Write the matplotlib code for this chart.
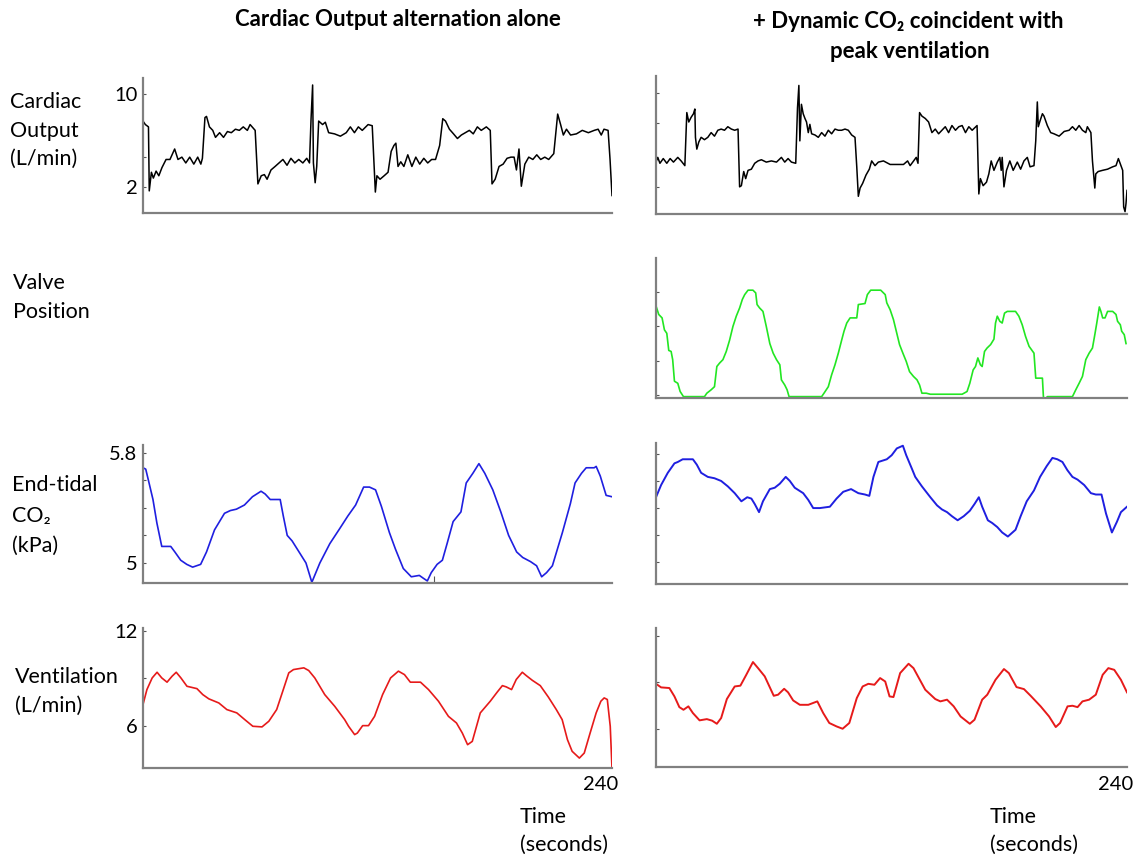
import matplotlib
matplotlib.use("Agg")
import matplotlib.pyplot as plt

# ---- data (time in s) ----
co_left_t = [0, 1.2, 2.8, 3.2, 4.3, 5.3, 6.7, 8.1, 9.7, 11.8, 13.8, 16.2, 17.9, 19.9, 21.9, 23.9, 26, 28, 29.6, 30.4,
             31.7, 32.5, 34, 35.7, 37.1, 39.2, 41.2, 43.2, 45.2, 47.3, 49.3, 51.3, 53.4, 54.8, 57.4, 58.8, 60.5, 62.1,
             63.5, 65.5, 67.6, 69.6, 71.6, 73.7, 75.7, 77.7, 79.7, 81.8, 83.8, 85.2, 86, 86.8, 87.2, 88.1, 88.9, 89.9,
             91.9, 93.3, 95, 98, 101, 104, 106.1, 108.2, 110.2, 112.2, 115.2, 117.3, 118.9, 119.7, 121.3, 123.4, 125.4,
             127, 128.4, 129.4, 130.5, 131.9, 133.5, 135.5, 137.6, 139.6, 141.6, 143.7, 145.7, 147.7, 149.7, 151.8,
             153.4, 154.8, 156.8, 158.9, 160.9, 162.9, 165, 167, 169, 171.1, 173.1, 175.7, 177.7, 178.6, 180.2, 182.2,
             184.3, 186.3, 188.3, 189.9, 191.1, 192.4, 193.6, 195.4, 197.4, 199.5, 201.5, 203.5, 205.6, 207.6, 210.2,
             212.2, 213.7, 215.1, 216.7, 218.8, 221.8, 224.8, 227.9, 230.9, 232.9, 234.5, 235.9, 238, 239, 240]
co_left_v = [7.7, 7.4, 7.2, 1.7, 3.3, 2.8, 3.4, 3.0, 3.7, 4.4, 4.4, 5.3, 4.4, 4.6, 4.1, 4.6, 4.0, 4.6, 4.0, 4.5,
             8.0, 8.1, 7.2, 6.9, 6.3, 6.7, 6.3, 6.8, 6.7, 7.0, 6.9, 7.2, 6.9, 7.4, 6.9, 2.3, 3.0, 3.1,
             2.7, 3.5, 3.8, 4.1, 4.4, 3.9, 4.5, 4.1, 4.4, 4.1, 4.5, 4.1, 7.9, 10.8, 4.1, 2.4, 3.8, 7.7,
             7.4, 7.6, 6.7, 6.6, 6.4, 6.7, 7.2, 6.7, 7.2, 6.9, 7.4, 7.3, 1.6, 3.0, 2.7, 3.0, 3.3,
             5.1, 5.6, 5.8, 3.8, 4.2, 3.8, 4.8, 3.8, 4.6, 4.0, 4.5, 4.1, 4.4, 4.4, 5.6,
             7.9, 7.7, 7.0, 6.6, 6.2, 6.5, 6.7, 6.9, 6.6, 7.2, 6.9, 7.2, 6.9, 2.3, 2.7, 3.8,
             4.0, 4.5, 4.6, 4.6, 3.5, 5.3, 2.1, 4.0, 4.6, 4.4, 4.8, 4.4, 4.6, 4.4, 4.9,
             8.3, 7.4, 6.5, 7.0, 6.5, 6.6, 6.9, 6.7, 6.9, 7.0, 6.5, 7.0, 6.9, 4.4, 1.3]

co_right_t = [0, 0.9, 2, 3.7, 5.5, 7.2, 8.9, 11.1, 12.8, 14.7, 15.7, 16.7, 17.9, 19.1, 19.8, 20.1, 20.8, 21.8, 23, 24.7,
              26.4, 28.1, 29.8, 31.5, 33.2, 34.9, 36.6, 38.4, 40.1, 41.8, 42.6, 43.5, 44.7, 45.7, 46.9, 48.6, 50.3, 52,
              53.7, 56.2, 58.8, 61.4, 63.9, 65.6, 67.3, 69, 71.2, 72.1, 72.8, 73.3, 74.1, 75, 75.9, 76.7, 77.6, 78.4,
              79.3, 81, 82.7, 84.4, 86.1, 87.8, 89.5, 91.2, 92.9, 94.6, 96.3, 98, 99.7, 101.4, 102.3, 103.1, 104,
              105.3, 107, 108.7, 109.9, 111.6, 113.3, 115.9, 119.3, 122.7, 126.1, 128.2, 129.5, 131.3, 132.6, 133.5,
              134.3, 135.5, 137.2, 138.9, 140.6, 142.3, 144, 145.7, 147.4, 149.1, 150.8, 152.6, 154.3, 156, 157.7,
              159.4, 161.1, 163.6, 164.5, 165.3, 166.7, 168.4, 169.6, 170.8, 172.2, 173.9, 175.2, 175.9, 176.4, 177.3,
              178.6, 180.3, 182, 184.1, 185.8, 187.5, 189.2, 190.6, 192.6, 193.5, 194.3, 194.8, 195.7, 196.9, 197.7,
              199.4, 201.1, 202.8, 205.4, 208, 210.5, 212.2, 213.9, 215.6, 217.3, 219, 219.8, 221.6, 222.4, 223.6,
              224.1, 225.3, 227.5, 230.1, 232.7, 234.4, 235.6, 236.9, 237.8, 238.3, 239, 239.5, 240]
co_right_v = [4.1, 4.5, 4.0, 4.4, 4.0, 4.4, 4.1, 4.5, 4.2, 3.8, 8.3, 7.5, 7.9, 8.2, 8.6, 6.2, 5.2, 5.8, 6.2, 6.0,
              6.2, 6.6, 6.3, 6.8, 6.9, 6.8, 7.1, 6.9, 6.8, 6.9, 2.0, 2.1, 3.3, 2.7, 3.4, 3.5, 4.0, 4.2,
              4.3, 4.1, 4.2, 4.1, 4.5, 4.1, 4.4, 4.1, 4.0, 8.7, 10.6, 5.9, 9.0, 8.2, 7.8, 7.5, 6.6, 7.3,
              6.5, 6.4, 6.2, 6.6, 6.3, 6.8, 6.5, 6.9, 6.8, 6.8, 6.9, 6.8, 6.4, 6.2, 3.7, 1.2, 1.9,
              2.3, 3.0, 3.5, 4.2, 3.8, 4.1, 4.2, 3.9, 3.9, 3.9, 4.2, 3.8, 4.2, 4.5, 4.0,
              8.3, 8.0, 7.8, 7.5, 6.6, 6.9, 6.5, 6.8, 7.1, 6.6, 7.2, 6.8, 7.1, 7.2, 6.6,
              7.1, 6.8, 7.2, 1.4, 2.7, 2.1, 2.4, 3.1, 4.2, 3.4, 4.1, 4.5, 3.4, 4.5, 2.0,
              3.4, 4.2, 3.4, 4.1, 3.5, 4.2, 4.5, 3.7, 3.8, 5.9, 9.2, 7.1, 7.6, 8.2, 8.0,
              7.2, 6.6, 6.5, 6.3, 6.7, 6.8, 7.1, 6.8, 7.2, 6.8, 6.6, 7.1, 6.6, 4.2, 1.9,
              3.1, 3.3, 3.4, 3.5, 3.7, 3.8, 4.4, 3.8, 3.4, 0.3, -0.1, 0.6, 1.7]

valve_t = [0, 1.4, 3.1, 4.3, 5.5, 6.5, 7.7, 8.5, 9.4, 11.1, 12.3, 14, 24.7, 25.9, 28.1, 29.8, 31, 32.4, 34.1, 35.8,
           37.5, 39.2, 40.9, 42.6, 44, 45.2, 46.9, 49.4, 50.8, 51.5, 52.8, 54.5, 56.2, 58, 59.7, 61.4, 63.1, 63.9,
           65.6, 66.8, 67.8, 84.4, 85.6, 87.8, 89.5, 91.2, 92.9, 94.6, 95.8, 97.2, 98.9, 102.3, 103.1, 106.5, 107.7,
           109.4, 114.5, 116.8, 117.6, 119.3, 121, 122.7, 124.1, 125.8, 127.5, 129.2, 131.2, 133, 134.3, 135.5,
           137.7, 139.8, 156, 158.5, 159.9, 161.6, 162.8, 164, 165.3, 166.2, 167.4, 168.7, 170.5, 172.2, 173, 173.9,
           175.2, 176.4, 177.6, 179, 183.2, 184.9, 186.6, 188.3, 190.1, 192.6, 193.5, 196.9, 197.4, 198.1, 199.4,
           212.2, 213.9, 215.6, 217.3, 219, 220.7, 222.4, 223.6, 224.6, 225.9, 226.7, 227.6, 228.8, 230.1, 232.7,
           234.4, 235.2, 236.6, 237.3, 238.6, 239.5]
valve_v = [2.6, 2.35, 2.25, 1.9, 1.8, 1.3, 1.27, 1.03, 0.4, 0.34, 0.1, -0.05, -0.05, 0.05, 0.15, 0.24, 0.83, 0.93,
           1.03, 1.27, 1.6, 2.0, 2.3, 2.54, 2.79, 2.93, 3.06, 3.06, 2.98, 2.64, 2.54, 2.44, 2.0, 1.5, 1.22, 1.03,
           0.88, 0.44, 0.29, 0.15, -0.05, -0.05, 0.05, 0.24, 0.59, 0.88, 1.22, 1.6, 1.86, 2.1, 2.25, 2.25, 2.64,
           2.67, 2.93, 3.06, 3.06, 2.93, 2.69, 2.49, 2.2, 1.8, 1.47, 1.22, 0.98, 0.68, 0.54, 0.44, 0.29, 0.05,
           0.05, 0.02, 0.02, 0.1, 0.34, 0.73, 0.83, 1.08, 0.88, 0.83, 1.27, 1.37, 1.47, 1.63, 2.1, 2.3,
           2.15, 2.1, 2.39, 2.44, 2.44, 2.3, 2.05, 1.71, 1.42, 1.22, 0.49, 0.49, -0.05, -0.15, -0.05,
           -0.05, 0.15, 0.34, 0.54, 1.03, 1.22, 1.37, 1.76, 2.1, 2.57, 2.44, 2.25, 2.25, 2.44, 2.44,
           2.35, 2.15, 2.05, 1.86, 1.76, 1.5]

co2_left_t = [0, 1.4, 3.1, 5.1, 7.1, 9.6, 11.2, 14.2, 16.3, 19.3, 22.4, 25.4, 29.5, 32.5, 36.6, 41.7, 44.7, 47.8, 51.9,
              56, 60.4, 62.5, 65.1, 70.2, 71.8, 73.8, 76.3, 80.3, 83.4, 86.4, 90.5, 95.6, 100.7, 104.8, 108.8, 112.9,
              115.9, 119, 122, 126.1, 129.2, 133.2, 137.3, 141.4, 143.4, 145.5, 147.5, 150.5, 153.2, 155.6, 158.7,
              162.7, 165.4, 168.8, 171.9, 174.9, 179, 183.1, 187.1, 191.2, 194.3, 198.3, 201.4, 204, 206.5, 209.5,
              214.6, 218.7, 221.1, 224.4, 226.8, 230.9, 231.9, 234, 237, 240]
co2_left_v = [5.69, 5.68, 5.58, 5.46, 5.29, 5.12, 5.12, 5.12, 5.08, 5.02, 4.99, 4.97, 4.99, 5.08, 5.24, 5.36, 5.38,
              5.39, 5.42, 5.48, 5.52, 5.50, 5.46, 5.46, 5.34, 5.20, 5.16, 5.07, 5.00, 4.86, 5.00, 5.14, 5.25, 5.34,
              5.42, 5.55, 5.55, 5.53, 5.41, 5.22, 5.10, 4.96, 4.90, 4.91, 4.89, 4.87, 4.93, 4.99, 5.02, 5.14, 5.30,
              5.37, 5.58, 5.65, 5.72, 5.65, 5.53, 5.37, 5.20, 5.08, 5.04, 5.01, 4.98, 4.90, 4.93, 4.98,
              5.22, 5.43, 5.58, 5.65, 5.69, 5.69, 5.70, 5.63, 5.49, 5.48]

co2_right_t = [0, 2.6, 6, 9.4, 11.1, 13.6, 18.8, 20.8, 23, 26.4, 29.8, 33.2, 36.6, 40.1, 43.5, 46.5, 48.6, 50.3, 52.5,
               54.5, 58, 60.5, 63.1, 66.1, 68.2, 70.7, 75, 77.6, 80.1, 83.5, 88.6, 92, 95.4, 99.4, 103.1, 106.5, 108.7,
               110.8, 113.3, 117.6, 120.1, 122.7, 125.8, 127.5, 130.4, 132.1, 135.5, 139.8, 143.2, 145.7, 148.3,
               150.8, 153.7, 156.8, 159.9, 162.3, 164.5, 166.2, 169.1, 171.3, 173.9, 176.4, 179.3, 183.2, 185.8,
               188.9, 192.6, 195.7, 199.1, 202, 204.5, 207.1, 209.6, 212.2, 214.8, 218.2, 221.6, 224.1, 227, 229.3,
               232.3, 234.9, 236.9, 240]
co2_right_v = [5.48, 5.57, 5.66, 5.73, 5.74, 5.76, 5.76, 5.72, 5.66, 5.63, 5.62, 5.60, 5.56, 5.51, 5.45, 5.48, 5.47,
               5.43, 5.37, 5.45, 5.54, 5.55, 5.58, 5.63, 5.60, 5.55, 5.51, 5.46, 5.40, 5.40, 5.41, 5.47, 5.52, 5.54,
               5.51, 5.50, 5.49, 5.63, 5.74, 5.76, 5.79, 5.84, 5.86, 5.79, 5.69, 5.63, 5.56, 5.48, 5.42, 5.39, 5.37,
               5.34, 5.31, 5.34, 5.38, 5.43, 5.48, 5.41, 5.31, 5.29, 5.26, 5.22, 5.19, 5.24, 5.34,
               5.45, 5.53, 5.63, 5.71, 5.77, 5.76, 5.74, 5.68, 5.63, 5.61, 5.57, 5.51, 5.50, 5.50, 5.36,
               5.22, 5.30, 5.37, 5.41]

vent_left_t = [0, 2, 4.7, 7.2, 9.6, 12.3, 14.9, 17, 19.4, 22.5, 27.6, 30.6, 33.7, 38.8, 42.9, 48, 52.1, 56.2, 60.9,
               64.4, 68.4, 71.5, 74.6, 77, 82.3, 84.8, 87.9, 93, 98.1, 103.2, 105.2, 108.3, 109.7, 112.4, 115.4,
               118.5, 122.6, 126.7, 130.7, 133.8, 136.8, 142, 146.1, 151.2, 156.3, 160.4, 163.4, 166.1, 168.5, 172.6,
               177.7, 181.2, 183.9, 185.9, 188.6, 191, 194.1, 196.1, 199.2, 203.3, 207.4, 211.5, 214.5, 217.2, 219.6,
               223.3, 225.8, 228.8, 231.9, 234.3, 236, 237.6, 239.1, 240]
vent_left_v = [7.34, 8.29, 9.03, 9.39, 9.03, 8.76, 9.14, 9.39, 9.03, 8.5, 8.35, 7.97, 7.7, 7.44, 7.02, 6.81, 6.38,
               5.96, 5.92, 6.28, 7.02, 8.18, 9.35, 9.56, 9.67, 9.5, 9.03, 7.97, 7.23, 6.38, 5.96, 5.43, 5.53, 6.0,
               6.0, 6.59, 7.97, 9.03, 9.46, 9.24, 8.76, 8.76, 8.29, 7.55, 6.59, 6.17, 5.53, 4.79, 5.0, 6.81,
               7.55, 8.12, 8.54, 8.46, 8.29, 8.93, 9.39, 9.18, 8.88, 8.54, 7.82, 7.02, 6.38, 5.11, 4.37,
               3.94, 4.26, 5.53, 6.81, 7.55, 7.76, 7.66, 5.96, 3.31]

vent_right_t = [0, 2.6, 6.8, 9.4, 11.9, 14, 16.5, 18.8, 22.2, 25.9, 28.6, 31, 33.2, 36.1, 40.1, 43, 46, 49.4, 52,
                55.4, 60, 62.2, 65.3, 67.3, 69.9, 73.3, 77.6, 82.2, 85.2, 88.3, 92, 95.1, 98.5, 102.3, 105.3, 108.2,
                111.3, 114.2, 116.8, 119, 121, 124.4, 128.7, 131.2, 137.2, 142.3, 144.9, 148.3, 151.7, 155.2, 159.9,
                162.3, 166.2, 168.8, 173, 177.3, 179.8, 183.7, 187.5, 190.9, 196, 200.3, 203.7, 205.9, 209.7, 212.2,
                214.8, 217.3, 220.7, 224.1, 227.6, 230.5, 233.5, 236.9, 240]
vent_right_v = [8.91, 8.68, 8.64, 8.1, 7.41, 7.24, 7.46, 7.03, 6.56, 6.64, 6.54, 6.34, 6.71, 7.93, 8.74, 8.79, 9.49,
                10.31, 9.92, 9.39, 8.14, 8.21, 8.59, 8.36, 7.84, 7.56, 7.56, 7.78, 7.03, 6.39, 6.17, 6.02, 6.39,
                7.99, 8.74, 8.91, 8.85, 9.28, 9.06, 8.1, 8.06, 9.6, 10.2, 9.92, 8.53, 7.93, 7.78, 7.89, 7.46, 6.81,
                6.34, 6.6, 7.89, 8.21, 9.17, 9.86, 9.6, 8.7, 8.57, 8.14, 7.46, 6.81, 6.13, 6.39, 7.46, 7.5,
                7.41, 7.78, 7.89, 8.21, 9.49, 9.92, 9.81, 9.17, 8.36]

W, H = 1134, 856
SPINE = '#808080'


def panel(fig, x0, y0, x1, y1):
    ax = fig.add_axes([x0 / W, 1 - y1 / H, (x1 - x0) / W, (y1 - y0) / H])
    for s in ['top', 'right']:
        ax.spines[s].set_visible(False)
    for s in ['left', 'bottom']:
        ax.spines[s].set_color(SPINE)
        ax.spines[s].set_linewidth(1.6)
    ax.set_xlim(0, 240)
    ax.set_xticks([])
    ax.tick_params(axis='y', direction='in', length=2.5, width=0.8, color='#555555',
                   labelsize=14.5, pad=4)
    return ax


def label(fig, x, y, s, size=15.5, **kw):
    fig.text(x / W, 1 - y / H, s, va='center', fontsize=size, **kw)


def main():
    plt.rcParams['font.family'] = ['Lato', 'DejaVu Sans']
    fig = plt.figure(figsize=(W / 100, H / 100), dpi=100)

    # titles
    label(fig, 398, 20, 'Cardiac Output alternation alone', size=16, ha='center', fontweight='bold')
    label(fig, 908, 22, '+ Dynamic CO₂ coincident with', size=16, ha='center', fontweight='bold')
    label(fig, 910, 52, 'peak ventilation', size=16, ha='center', fontweight='bold')

    # row labels
    for x, y, s in [(10, 102, 'Cardiac'), (10, 131, 'Output'), (10, 159, '(L/min)'),
                    (13, 283, 'Valve'), (13, 312, 'Position'),
                    (12, 485, 'End-tidal'), (12, 516, 'CO₂'), (12, 546, '(kPa)'),
                    (15, 677, 'Ventilation'), (15, 706, '(L/min)')]:
        label(fig, x, y, s, ha='left')

    # 1. Cardiac output
    ax = panel(fig, 143, 78, 612, 213)
    ax.plot(co_left_t, co_left_v, color='black', lw=1.1)
    ax.set_ylim(-0.2, 11.4)
    ax.set_yticks([2, 4.65, 10], ['2', '', '10'])

    ax = panel(fig, 656, 76, 1127, 214)
    ax.plot(co_right_t, co_right_v, color='black', lw=1.1)
    ax.set_ylim(-0.3, 11.4)
    ax.set_yticks([2, 7.4, 10], ['', '', ''])

    # 2. Valve position (only right)
    ax = panel(fig, 656, 258, 1127, 398)
    ax.plot(valve_t, valve_v, color='#22e622', lw=1.2)
    ax.set_ylim(-0.09, 4.0)
    ax.set_yticks([0, 1, 2, 3], ['', '', '', ''])

    # 3. End-tidal CO2
    ax = panel(fig, 143, 445, 612, 583)
    ax.plot(co2_left_t, co2_left_v, color='#1f1fe0', lw=1.2)
    ax.set_ylim(4.855, 5.855)
    ax.set_yticks([5.0, 5.2, 5.4, 5.6, 5.8], ['5', '', '', '', '5.8'])
    ax.set_xticks([149], [''])
    ax.tick_params(axis='x', direction='in', length=5, width=0.8, color='#555555')

    ax = panel(fig, 656, 443, 1127, 584)
    ax.plot(co2_right_t, co2_right_v, color='#1f1fe0', lw=1.4)
    ax.set_ylim(4.84, 5.88)
    ax.set_yticks([5.0, 5.2, 5.4, 5.6, 5.8], ['', '', '', '', ''])

    # 4. Ventilation
    ax = panel(fig, 143, 628, 612, 768)
    ax.plot(vent_left_t, vent_left_v, color='#e61a1a', lw=1.2)
    ax.set_ylim(3.31, 12.2)
    ax.set_yticks([6, 9, 12], ['6', '', '12'])

    ax = panel(fig, 656, 628, 1127, 767)
    ax.plot(vent_right_t, vent_right_v, color='#e61a1a', lw=1.4)
    ax.set_ylim(3.56, 12.5)
    ax.set_yticks([6, 9, 12], ['', '', ''])

    # time axis labels
    label(fig, 601, 784, '240', size=14.5, ha='center')
    label(fig, 1133, 784, '240', size=14.5, ha='right')
    for x in [520, 990]:
        label(fig, x, 817, 'Time', ha='left')
        label(fig, x, 845, '(seconds)', ha='left')

    fig.savefig('out.png', dpi=100)
    plt.close(fig)


if __name__ == "__main__":
    main()
